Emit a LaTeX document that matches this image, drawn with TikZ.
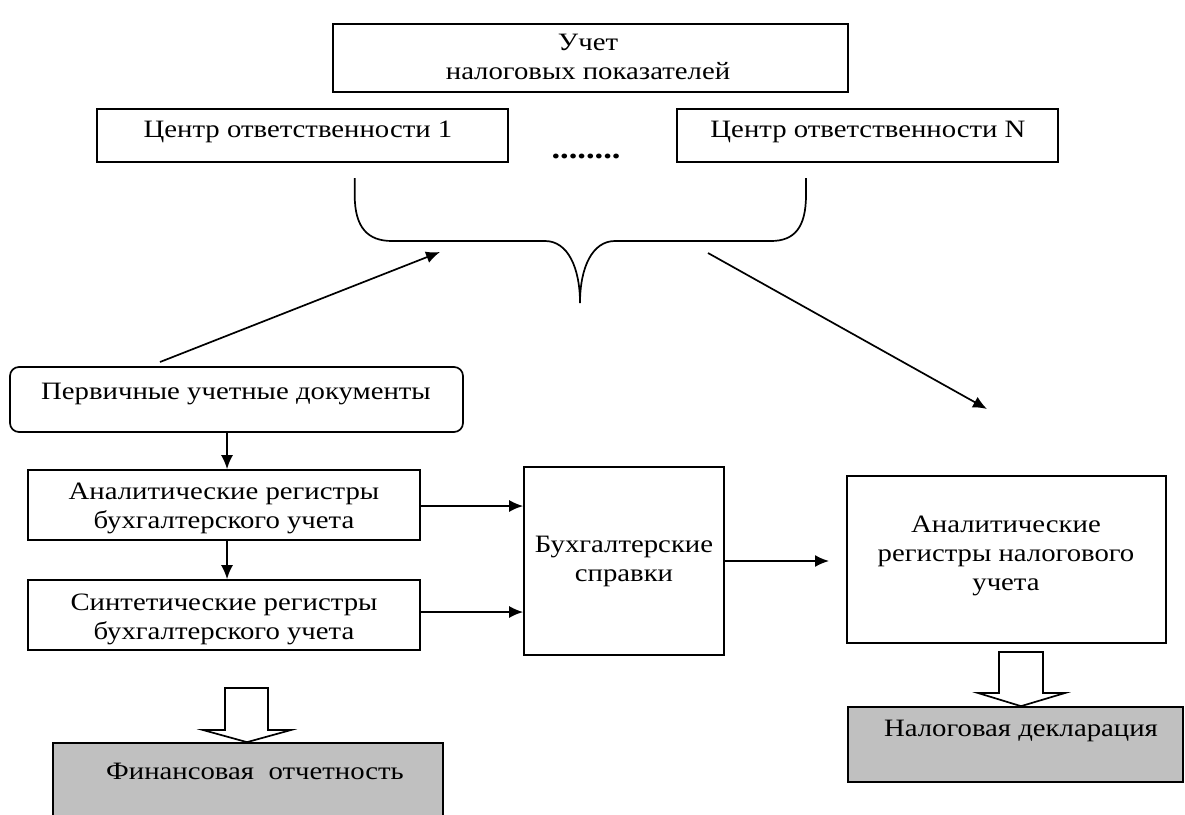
\documentclass[tikz,border=0pt]{standalone}
\usepackage{fontspec}
\setmainfont{Liberation Serif}[FakeStretch=1.15]
\usetikzlibrary{arrows.meta,calc}
\definecolor{boxgray}{RGB}{192,192,192}
\begin{document}
\begin{tikzpicture}[x=1pt,y=-1pt,
  box/.style={draw,line width=1.7pt,inner sep=0pt},
  rbox/.style={box,rounded corners=9pt},
  gbox/.style={box,fill=boxgray},
  txt/.style={font=\fontsize{25}{29}\selectfont,inner sep=0pt,align=center},
  arr/.style={line width=1.7pt,-{Latex[length=14pt,width=12pt]}},
  blk/.style={draw,line width=1.7pt,fill=white},
  brace/.style={draw,line width=1.7pt}]
\useasboundingbox (0,0) rectangle (1185,814);

% boxes
\node[box,minimum width=515pt,minimum height=68pt] (uchet) at (590.5,58) {};
\node[box,minimum width=411pt,minimum height=53pt] (c1) at (302.5,135.5) {};
\node[box,minimum width=381pt,minimum height=53pt] (cn) at (867.5,135.5) {};
\node[rbox,minimum width=453pt,minimum height=65pt] (perv) at (236.5,399.5) {};
\node[box,minimum width=392pt,minimum height=70pt] (anal) at (224,505) {};
\node[box,minimum width=392pt,minimum height=70pt] (sint) at (224,615) {};
\node[box,minimum width=200pt,minimum height=188pt] (sprav) at (624,561) {};
\node[box,minimum width=319pt,minimum height=167pt] (nalreg) at (1006.5,559.5) {};
\node[gbox,minimum width=390pt,minimum height=90pt] (fin) at (248,788) {};
\node[gbox,minimum width=335pt,minimum height=75pt] (decl) at (1015.5,744.5) {};

% texts
\node[txt] (tuchet) at (588,57) {Учет\\налоговых показателей};
\node[txt] (tc1) at (298,132) {Центр ответственности 1};
\node[txt] (tcn) at (868,132) {Центр ответственности N};
\node[font=\fontsize{30}{30}\selectfont\bfseries,inner sep=0pt,anchor=base] (dots) at (586,158) {........};
\node[txt] (tperv) at (236,394) {Первичные учетные документы};
\node[txt] (tanal) at (224,508) {Аналитические регистры\\бухгалтерского учета};
\node[txt] (tsint) at (224,619) {Синтетические регистры\\бухгалтерского учета};
\node[txt] (tsprav) at (624,561) {Бухгалтерские\\справки};
\node[txt] (tnal) at (1006,556) {Аналитические\\регистры налогового\\учета};
\node[txt] (tfin) at (255,771) {Финансовая\ \ отчетность};
\node[txt] (tdecl) at (1021,731) {Налоговая декларация};

% brace
\coordinate (bl) at (354.7,178);
\coordinate (br) at (806,178);
\coordinate (btip) at (580,303);
\draw[brace] (bl) -- (354.7,195) .. controls (354.7,228) and (368,241) .. (392,241)
  -- (545,241) .. controls (568,241) and (580,268) .. (btip)
  .. controls (580,268) and (592,241) .. (615,241)
  -- (771,241) .. controls (794,241) and (806,228) .. (806,195) -- (br);

% diagonal arrows
\coordinate (d1s) at (160,362);
\coordinate (d1e) at (440,252);
\coordinate (d2s) at (708,253);
\coordinate (d2e) at (987,409);
\draw[arr] (d1s) -- (d1e);
\draw[arr] (d2s) -- (d2e);

% flow arrows
\coordinate (sp2) at (829,561);
\draw[arr] (perv.south -| 227,0) -- (anal.north -| 227,0);
\draw[arr] (anal.south -| 227,0) -- (sint.north -| 227,0);
\draw[arr] (anal.east |- 0,506) -- (sprav.west |- 0,506);
\draw[arr] (sint.east |- 0,612) -- (sprav.west |- 0,612);
\draw[arr] (sprav.east) -- (sp2);

% block arrows
\draw[blk] (225,688) -- (268,688) -- (268,730) -- (291,730) -- (fin.north -| 247,0) -- (203,730) -- (225,730) -- cycle;
\draw[blk] (999,652) -- (1043,652) -- (1043,693) -- (1065,693) -- (decl.north -| 1021,0) -- (978,693) -- (999,693) -- cycle;
\end{tikzpicture}
\end{document}
